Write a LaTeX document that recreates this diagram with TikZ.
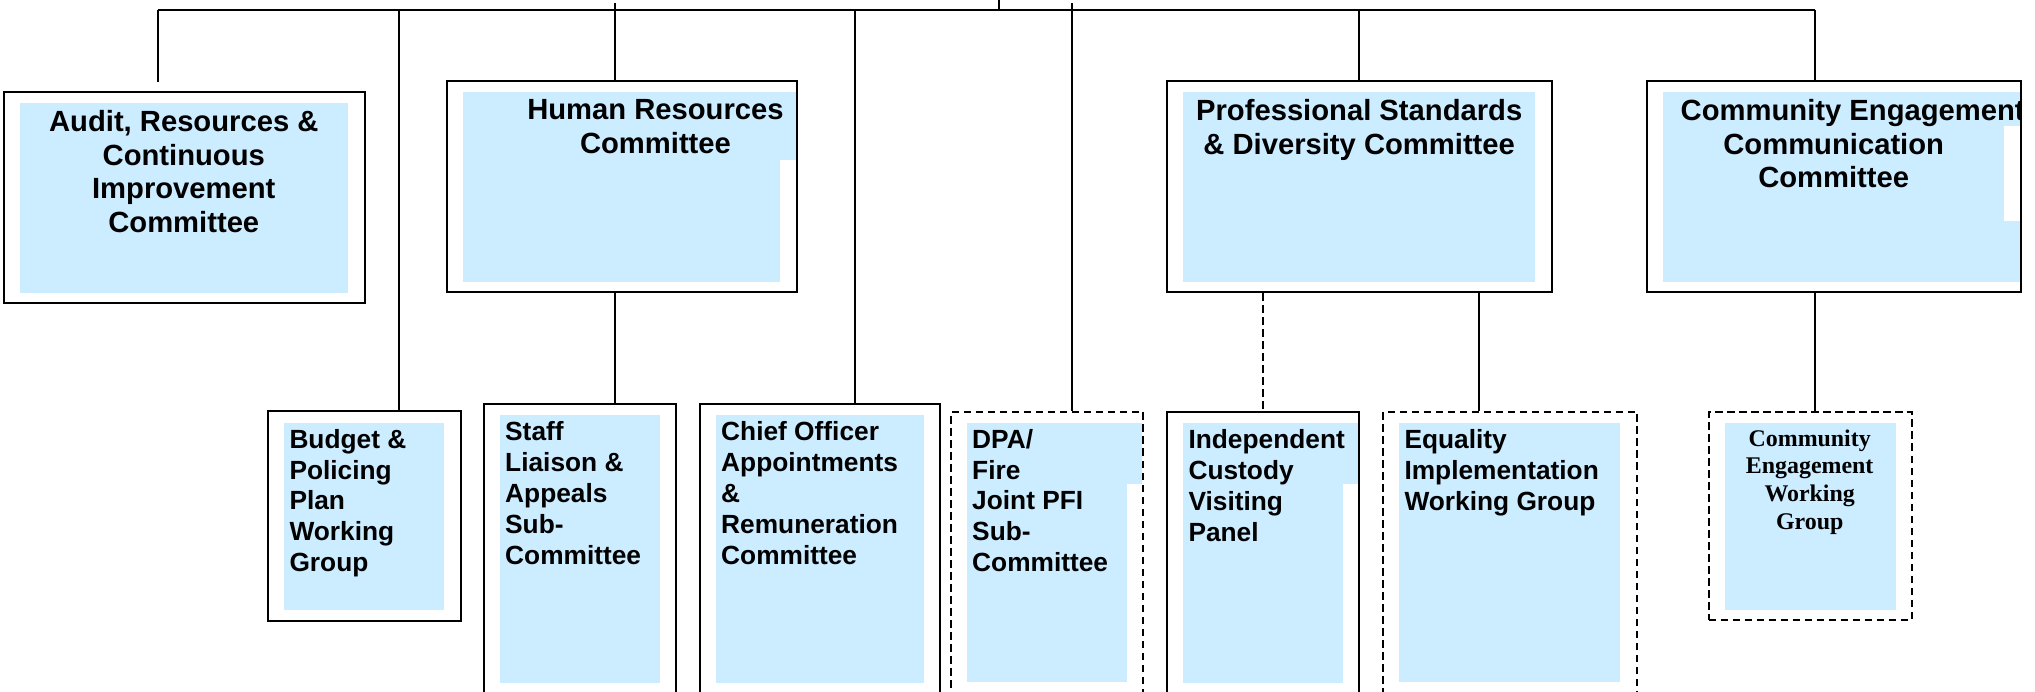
\documentclass[tikz,border=0pt]{standalone}
\usepackage{fontspec}
\setmainfont{Liberation Sans}
\newfontfamily\timesfont{Liberation Serif}
\definecolor{paleblue}{RGB}{204,236,255}

\begin{document}
\begin{tikzpicture}[x=1pt,y=-1pt,
    box/.style={draw=black,line width=2pt,inner sep=0pt},
    dashbox/.style={box,dash pattern=on 7.5pt off 4.5pt},
    link/.style={draw=black,line width=2pt},
    toptext/.style={font=\bfseries\fontsize{29.2}{33.5}\selectfont,align=center,anchor=north,inner sep=0pt},
    subtext/.style={font=\bfseries\fontsize{26.3}{30.9}\selectfont,align=left,anchor=north west,inner sep=0pt}]
  \clip (0,0) rectangle (2035,692);

  % blue panels
  \begin{scope}[every path/.style={fill=paleblue}]
    \fill (20,103) rectangle (347.7,292.7);
    \fill (463,92) rectangle (780,281.7);
    \fill (780,92) rectangle (796,160);
    \fill (1183,92) rectangle (1535,281.7);
    \fill (1663,92) rectangle (2020,281.7);
    \fill (284,423) rectangle (444,609.7);
    \fill (500,415) rectangle (659.7,682.7);
    \fill (716,415) rectangle (924,682.7);
    \fill (967,423) rectangle (1126.7,681.7);
    \fill (1126.7,423) rectangle (1142,484);
    \fill (1183,423.3) rectangle (1343,682.7);
    \fill (1343,423.3) rectangle (1358,484);
    \fill (1399,423.3) rectangle (1620,681.7);
    \fill (1725,423.3) rectangle (1896,610);
  \end{scope}
  \fill[white] (2004,126) rectangle (2020,220.7);

  % committees
  \node[box,minimum width=361pt,minimum height=211pt] (audit) at (184,198) {};
  \node[box,minimum width=350pt,minimum height=211pt] (hr) at (622,187) {};
  \node[box,minimum width=385pt,minimum height=211pt] (ps) at (1359,187) {};
  \node[box,minimum width=374pt,minimum height=211pt] (ce) at (1834,187) {};

  % sub-groups
  \node[box,minimum width=193pt,minimum height=209pt] (budget) at (364,516) {};
  \node[box,minimum width=192pt,minimum height=316pt] (staff) at (580,562) {};
  \node[box,minimum width=240pt,minimum height=316pt] (chief) at (820,562) {};
  \node[dashbox,minimum width=192pt,minimum height=308pt] (dpa) at (1047,566) {};
  \node[box,minimum width=192pt,minimum height=308pt] (icv) at (1263,566) {};
  \node[dashbox,minimum width=254pt,minimum height=308pt] (equal) at (1510,566) {};
  \node[dashbox,minimum width=203pt,minimum height=208pt] (cewg) at (1810,516) {};

  % labels
  \node[toptext] (auditText) at (183.8,110.2) {Audit, Resources \&\\Continuous\\Improvement\\Committee};
  \node[toptext] (hrText) at (655.5,99.5) {Human Resources\\Committee};
  \node[toptext] (psText) at (1359.2,99.5) {Professional Standards\\\& Diversity Committee};
  \begin{scope}
    \clip (1647,81) rectangle (2020,293);
    \node[toptext] (ceText) at (1833.7,99.5) {\hspace*{38pt}Community Engagement\\Communication\\Committee};
  \end{scope}
  \node[subtext] (budgetText) at (289.3,428.9) {Budget \&\\Policing\\Plan\\Working\\Group};
  \node[subtext] (staffText) at (505,421.3) {Staff\\Liaison \&\\Appeals\\Sub-\\Committee};
  \node[subtext] (chiefText) at (721,421.3) {Chief Officer\\Appointments\\\&\\Remuneration\\Committee};
  \node[subtext] (dpaText) at (972,428.9) {DPA/\\Fire\\Joint PFI\\Sub-\\Committee};
  \node[subtext] (icvText) at (1188.3,429.2) {Independent\\Custody\\Visiting\\Panel};
  \node[subtext] (equalText) at (1404.3,429.2) {Equality\\Implementation\\Working Group};
  \node[font=\timesfont\bfseries\fontsize{23.9}{27.6}\selectfont,align=center,anchor=north,inner sep=0pt]
    (cewgText) at (1809.7,429.5) {Community\\Engagement\\Working\\Group};

  % connectors
  \coordinate (parent) at (999,0);
  \coordinate (auditEnd) at (158,82);
  \coordinate (barL) at (158,10);
  \coordinate (barR) at (1815,10);
  \coordinate (hrTop) at (615,3);
  \coordinate (dpaTop) at (1072,3);
  \coordinate (jBudget) at (399,10);
  \coordinate (jChief) at (855,10);
  \coordinate (jEqual) at (1479,0);
  \begin{scope}[every path/.style={link}]
    \path (auditEnd) edge (barL);
    \path (barL) edge (barR);
    \path (barR) edge (barR |- ce.north);
    \path (parent) edge (parent |- barL);
    \path (hrTop) edge (hrTop |- hr.north);
    \path (jBudget) edge (jBudget |- budget.north);
    \path (jChief) edge (jChief |- chief.north);
    \path (dpaTop) edge (dpaTop |- dpa.north);
    \path (ps.north |- barL) edge (ps.north);
    \path (hr.south -| hrTop) edge (staff.north -| hrTop);
    \path (ps.south -| jEqual) edge (equal.north -| jEqual);
    \path (ce.south -| barR) edge (cewg.north -| barR);
    \path[dash pattern=on 7.5pt off 4.5pt] (ps.south -| icv.north) edge (icv.north);
  \end{scope}
\end{tikzpicture}
\end{document}
